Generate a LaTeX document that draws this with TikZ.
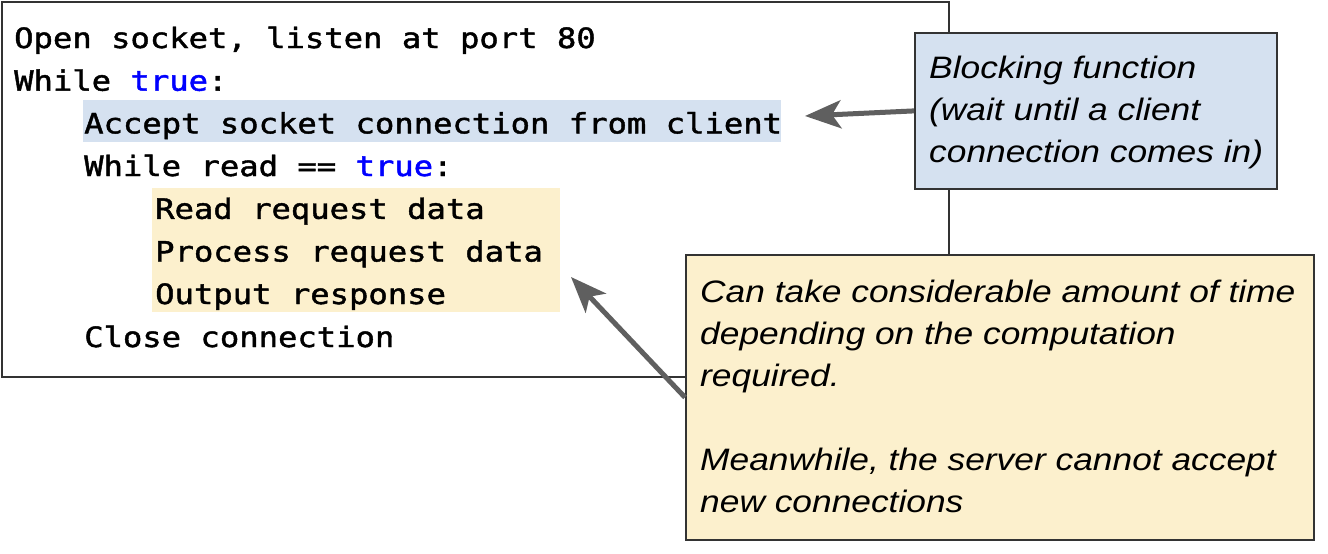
\documentclass[tikz,border=0pt]{standalone}
\usepackage{fontspec}
\usetikzlibrary{arrows.meta}
\newfontfamily\codefont[FakeStretch=1.15,FakeBold=1.5]{DejaVu Sans Mono}
\newfontfamily\notefont[FakeStretch=1.14]{Liberation Sans}
\definecolor{hlblue}{HTML}{D5E1F0}
\definecolor{hlyellow}{HTML}{FCF0CD}
\definecolor{kw}{HTML}{0000FF}
\definecolor{arrowgray}{HTML}{5F5F5F}
\definecolor{bordercol}{HTML}{333333}
\begin{document}
\begin{tikzpicture}[x=1pt,y=-1pt,
  code/.style={anchor=base west,inner sep=0pt,font=\codefont\fontsize{28}{34}\selectfont},
  note/.style={anchor=base west,inner sep=0pt,font=\notefont\itshape\fontsize{31}{37}\selectfont},
  panel/.style={anchor=north west,inner sep=0pt,draw=bordercol,line width=1.8pt},
  hl/.style={anchor=north west,inner sep=0pt,draw=none},
  ptr/.style={draw=arrowgray,line width=5pt,-{Stealth[length=36pt,width=28pt,inset=9pt]}}]
\useasboundingbox (0,0) rectangle (1328,554);
% code panel
\node[panel,fill=white,line width=1.5pt,minimum width=947pt,minimum height=375pt] (codebox) at (1,1) {};
\node[hl,fill=hlblue,minimum width=698pt,minimum height=42pt] (hlA) at (83,100) {};
\node[hl,fill=hlyellow,minimum width=408pt,minimum height=124pt] (hlB) at (152,188) {};
\node[code] (l1) at (14,48) {Open socket, listen at port 80};
\node[code] (l2) at (14,90.7) {While \textcolor{kw}{true}:};
\node[code] (l3) at (84,133.4) {Accept socket connection from client};
\node[code] (l4) at (84,176) {While read == \textcolor{kw}{true}:};
\node[code] (l5) at (155,218.8) {Read request data};
\node[code] (l6) at (155,261.5) {Process request data};
\node[code] (l7) at (155,304) {Output response};
\node[code] (l8) at (84,347) {Close connection};
% blue note
\node[panel,fill=hlblue,minimum width=362pt,minimum height=156pt] (bbox) at (914,32) {};
\node[note] (b1) at (929,78) {Blocking function};
\node[note] (b2) at (929,120) {(wait until a client};
\node[note] (b3) at (929,162) {connection comes in)};
% yellow note
\node[panel,fill=hlyellow,minimum width=628pt,minimum height=285pt] (ybox) at (685,254) {};
\node[note] (y1) at (700,302) {Can take considerable amount of time};
\node[note] (y2) at (700,344) {depending on the computation};
\node[note] (y3) at (700,386) {required.};
\node[note] (y4) at (700,470) {Meanwhile, the server cannot accept};
\node[note] (y5) at (700,512) {new connections};
% arrows
\coordinate (tipA) at (805,116);
\coordinate (tipB) at (571,277);
\draw[ptr] (bbox.west) -- (tipA);
\draw[ptr] (ybox.west) -- (tipB);
\end{tikzpicture}
\end{document}
